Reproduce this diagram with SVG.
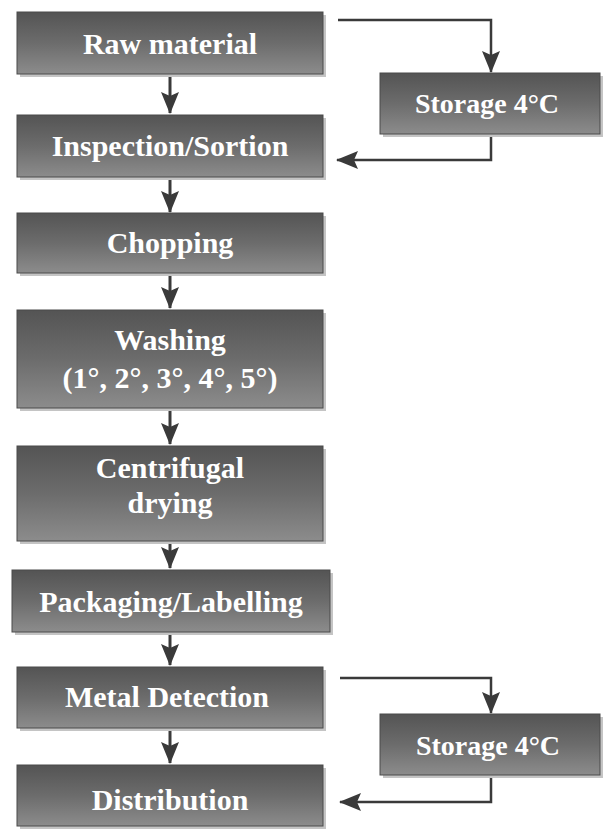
<svg xmlns="http://www.w3.org/2000/svg" width="606" height="831" viewBox="0 0 606 831">
<defs>
<linearGradient id="g" x1="0" y1="0" x2="0" y2="1">
<stop offset="0" stop-color="#545454"/>
<stop offset="0.5" stop-color="#6c6c6c"/>
<stop offset="1" stop-color="#8c8c8c"/>
</linearGradient>
<marker id="ah" viewBox="0 0 22 18" refX="21" refY="9" markerWidth="22" markerHeight="18" orient="auto" markerUnits="userSpaceOnUse">
<path d="M0,0 L22,9 L0,18 L4,9 z" fill="#3a3a3a"/>
</marker>
</defs>
<style>
.box{fill:url(#g);stroke:#4a4a4a;stroke-width:1}
.sh{fill:#c4c4c4}
.t{font-family:"Liberation Serif","Times New Roman",serif;font-weight:bold;font-size:30px;fill:#ffffff;text-anchor:middle}
.st{font-size:28px}
.c{fill:none;stroke:#3a3a3a;stroke-width:3;marker-end:url(#ah)}
.s{fill:none;stroke:#3a3a3a;stroke-width:2.5;marker-end:url(#ah)}
</style>
<rect width="606" height="831" fill="#ffffff"/>
<g id="connectors">
<path class="c" d="M170,74 V113"/>
<path class="c" d="M170,177 V212"/>
<path class="c" d="M170,273 V308"/>
<path class="c" d="M170,408 V444"/>
<path class="c" d="M170,541 V568"/>
<path class="c" d="M170,632 V665"/>
<path class="c" d="M170,728 V763"/>
<path class="s" d="M338,20 H491 V72"/>
<path class="s" d="M491,134 V160 H337"/>
<path class="s" d="M340,678 H491 V713"/>
<path class="s" d="M491,775 V802 H340"/>
</g>
<g id="raw">
<rect class="sh" x="20" y="15" width="306" height="62"/>
<rect class="box" x="17" y="12" width="306" height="62"/>
<text class="t" x="170" y="54">Raw material</text>
</g>
<g id="storage1">
<rect class="sh" x="383" y="76" width="220" height="61"/>
<rect class="box" x="380" y="73" width="220" height="61"/>
<text class="t st" x="487" y="113">Storage 4°C</text>
</g>
<g id="inspection">
<rect class="sh" x="20" y="118" width="306" height="62"/>
<rect class="box" x="17" y="115" width="306" height="62"/>
<text class="t" x="170" y="156">Inspection/Sortion</text>
</g>
<g id="chopping">
<rect class="sh" x="20" y="216" width="306" height="60"/>
<rect class="box" x="17" y="213" width="306" height="60"/>
<text class="t" x="170" y="253">Chopping</text>
</g>
<g id="washing">
<rect class="sh" x="20" y="313" width="306" height="98"/>
<rect class="box" x="17" y="310" width="306" height="98"/>
<text class="t" x="170" y="350">Washing</text>
<text class="t" x="170" y="388">(1°, 2°, 3°, 4°, 5°)</text>
</g>
<g id="drying">
<rect class="sh" x="20" y="449" width="306" height="95"/>
<rect class="box" x="17" y="446" width="306" height="95"/>
<text class="t" x="170" y="478">Centrifugal</text>
<text class="t" x="170" y="513">drying</text>
</g>
<g id="packaging">
<rect class="sh" x="15" y="573" width="318" height="62"/>
<rect class="box" x="12" y="570" width="318" height="62"/>
<text class="t" x="171" y="612">Packaging/Labelling</text>
</g>
<g id="metal">
<rect class="sh" x="20" y="670" width="306" height="61"/>
<rect class="box" x="17" y="667" width="306" height="61"/>
<text class="t" x="167" y="707">Metal Detection</text>
</g>
<g id="storage2">
<rect class="sh" x="383" y="717" width="220" height="61"/>
<rect class="box" x="380" y="714" width="220" height="61"/>
<text class="t st" x="488" y="755">Storage 4°C</text>
</g>
<g id="distribution">
<rect class="sh" x="20" y="768" width="306" height="61"/>
<rect class="box" x="17" y="765" width="306" height="61"/>
<text class="t" x="170" y="810">Distribution</text>
</g>
</svg>
